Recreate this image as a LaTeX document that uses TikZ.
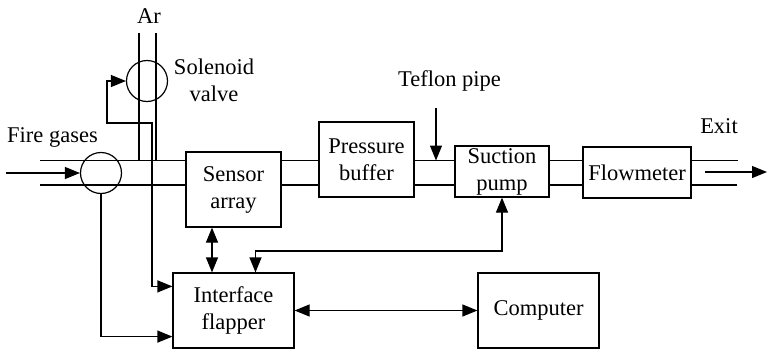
\documentclass[tikz,border=0pt]{standalone}
\usepackage{fontspec}
\setmainfont{Liberation Serif}
\newfontfamily\diagserif{Liberation Serif}
\usetikzlibrary{arrows.meta, positioning, calc}
\newcommand{\diagfont}{\diagserif\fontsize{11.25}{13.5}\selectfont}
\tikzset{
  block/.style={
    rectangle, draw, line width=0.6pt,
    inner sep=0pt, align=center, font=\diagfont,
  },
  valvecirc/.style={circle, draw, line width=0.6pt, minimum size=20.5pt, inner sep=0pt},
  tag/.style={inner sep=0pt, align=center, font=\diagfont},
  pipe/.style={line width=0.6pt},
  arrow/.style={-{Triangle[length=7.5pt,width=6pt]}, line width=0.6pt},
  dblarrow/.style={{Triangle[length=7.5pt,width=6pt]}-{Triangle[length=7.5pt,width=6pt]}, line width=0.6pt},
}

\begin{document}
\begin{tikzpicture}[x=0.5pt, y=-0.5pt]
  \useasboundingbox (0,0) rectangle (768,349);

  % boxes
  \node[block, minimum width=47.5pt, minimum height=37.5pt] (sensor) at (233.5,189.5) {Sensor\\array};
  \node[block, minimum width=47.5pt, minimum height=37.5pt] (buffer) at (366.5,159.5) {Pressure\\buffer};
  \node[block, minimum width=47pt, minimum height=25.5pt] (pump) at (502,171.5) {Suction\\pump};
  \node[block, minimum width=54pt, minimum height=25.5pt] (flow) at (637,172.5) {Flowmeter};
  \node[block, minimum width=60.5pt, minimum height=37.5pt] (iface) at (233.5,310.5) {Interface\\flapper};
  \node[block, minimum width=60.5pt, minimum height=37.5pt] (computer) at (538.5,310.5) {Computer};

  % valves
  \node[valvecirc] (solenoid) at (147,81) {};
  \node[valvecirc] (mixer) at (101,173) {};

  % labels
  \node[tag, anchor=base] (ar) at (149,23) {Ar};
  \node[tag] (solname) at (214,80) {Solenoid\\valve};
  \node[tag, anchor=base] (fire) at (52.5,142) {Fire gases};
  \node[tag, anchor=base] (teflon) at (449.5,86) {Teflon pipe};
  \node[tag, anchor=base] (exit) at (719,133) {Exit};

  % pipe levels and free ends
  \coordinate (pu) at (0,160.5);
  \coordinate (pd) at (0,185);
  \coordinate (fin) at (40,0);
  \coordinate (arl) at (139,33);
  \coordinate (arr) at (156,33);
  \coordinate (exu) at (738,0);
  \coordinate (exd) at (737,0);
  \coordinate (firein) at (6,173);
  \coordinate (exs) at (705,172);
  \coordinate (exe) at (767,172);
  \coordinate (tefl) at (436,108);
  \coordinate (cl1) at (152,123);
  \coordinate (cl2) at (107,81);
  \coordinate (bus) at (0,251);

  % pipes
  \draw[pipe] (fin |- pu) -- (sensor.west |- pu);
  \draw[pipe] (fin |- pd) -- (sensor.west |- pd);
  \draw[pipe] (arl) -- (arl |- pu);
  \draw[pipe] (arr) -- (arr |- pu);
  \draw[pipe] (sensor.east |- pu) -- (buffer.west |- pu);
  \draw[pipe] (sensor.east |- pd) -- (buffer.west |- pd);
  \draw[pipe] (buffer.east |- pu) -- (pump.west |- pu);
  \draw[pipe] (buffer.east |- pd) -- (pump.west |- pd);
  \draw[pipe] (pump.east |- pu) -- (flow.west |- pu);
  \draw[pipe] (pump.east |- pd) -- (flow.west |- pd);
  \draw[pipe] (flow.east |- pu) -- (exu |- pu);
  \draw[pipe] (flow.east |- pd) -- (exd |- pd);

  % flow arrows
  \draw[arrow] (firein) -- (mixer.west);
  \draw[arrow] (exs) -- (exe);
  \draw[arrow] (tefl) -- (tefl |- pu);

  % signal lines
  \draw[dblarrow] ([yshift=-7pt]iface.north west) -| (cl1) -| (cl2) -- (solenoid.west);
  \draw[arrow] (mixer.south) |- ([yshift=6pt]iface.south west);
  \draw[dblarrow] ([xshift=-10.75pt]sensor.south) -- ([xshift=-10.75pt]iface.north);
  \draw[dblarrow] (pump.south) -- (pump.south |- bus) -| ([xshift=11pt]iface.north);
  \draw[dblarrow] (iface.east) -- (computer.west);

\end{tikzpicture}
\end{document}
